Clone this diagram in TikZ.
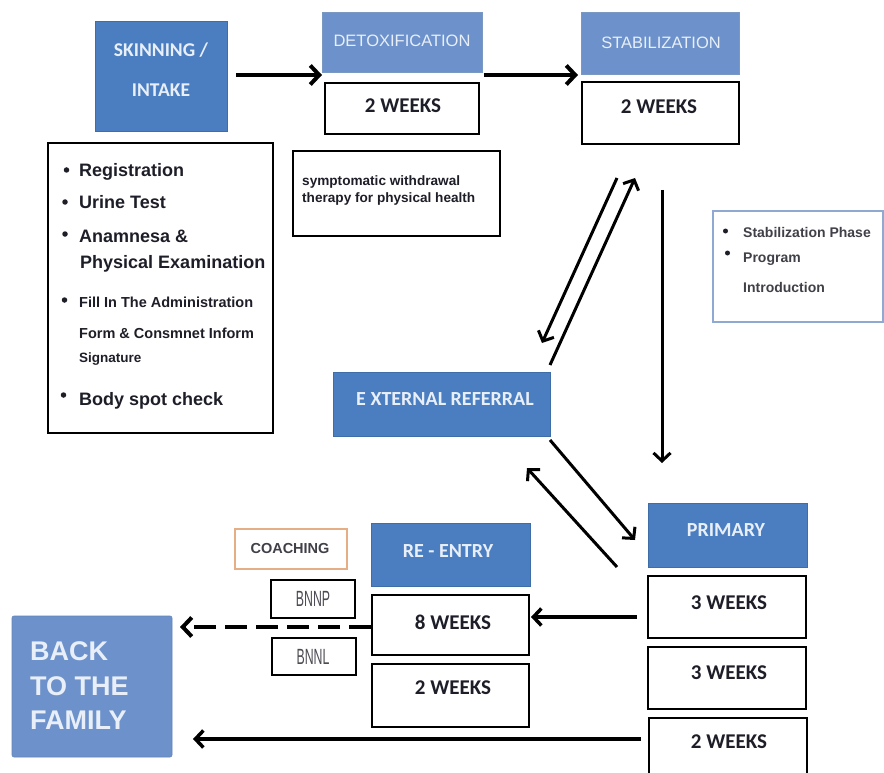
\documentclass[tikz,border=0pt]{standalone}
\usepackage{fontspec}
\setmainfont{Liberation Sans}
\newfontfamily\carl{Carlito}
\usetikzlibrary{arrows.meta}
\definecolor{blueA}{HTML}{4A7EC1}
\definecolor{blueB}{HTML}{6D92CB}
\definecolor{hdrline}{HTML}{3F6DA8}
\definecolor{hdrtxt}{HTML}{E8EFF8}
\definecolor{txt}{HTML}{1E1E28}
\definecolor{orangeB}{HTML}{E6AE85}
\definecolor{infoB}{HTML}{8FA9D2}
\begin{document}
\begin{tikzpicture}[x=1pt,y=-1pt,
  hdrA/.style={fill=blueA, draw=hdrline, line width=0.6pt, inner sep=0pt},
  hdrB/.style={fill=blueB, draw=hdrline!70, line width=0.6pt, inner sep=0pt},
  wbox/.style={draw=black, line width=2.2pt, fill=white, inner sep=0pt},
  ht/.style={text=hdrtxt, font=\carl\bfseries\fontsize{20}{24}\selectfont, inner sep=0pt},
  htr/.style={text=hdrtxt, font=\fontsize{16.5}{20}\selectfont, inner sep=0pt},
  wk/.style={text=txt, font=\carl\bfseries\fontsize{21}{24}\selectfont, inner sep=0pt},
  lt/.style={text=txt, anchor=base west, inner sep=0pt, font=\bfseries\fontsize{18}{20}\selectfont},
  ls/.style={text=txt, anchor=base west, inner sep=0pt, font=\bfseries\fontsize{14.5}{17}\selectfont},
  bul/.style={circle, fill=txt, inner sep=0pt, minimum size=5.5pt},
  arr/.style={line width=3pt, -{Straight Barb[length=8pt,width=17pt]}},
  arrT/.style={line width=4pt, -{Straight Barb[length=9pt,width=19pt]}}
]
\useasboundingbox (0,0) rectangle (884,773);

% ---- top row ----
\node[hdrA, minimum width=132pt, minimum height=110pt] (intake) at (161,76) {};
\node[ht, align=center, font=\carl\bfseries\fontsize{19.5}{40}\selectfont] (intakeT) at (161,70) {SKINNING /\\INTAKE};

\node[hdrB, minimum width=160pt, minimum height=60pt] (detoxH) at (402,42) {};
\node[htr] (detoxT) at (402,41) {DETOXIFICATION};
\node[wbox, minimum width=154pt, minimum height=51pt] (detoxW) at (402,108.5) {};
\node[wk] (detoxWT) at (403,106) {2 WEEKS};

\node[wbox, line width=1.8pt, minimum width=207pt, minimum height=85pt] (sympt) at (396.5,193.5) {};
\node[text=txt, anchor=base west, inner sep=0pt, font=\bfseries\fontsize{13.6}{17}\selectfont] (symptT1) at (302,185.5) {symptomatic withdrawal};
\node[text=txt, anchor=base west, inner sep=0pt, font=\bfseries\fontsize{13.6}{17}\selectfont] (symptT2) at (302,203) {therapy for physical health};

\node[hdrB, minimum width=158pt, minimum height=62pt] (stabH) at (660,43) {};
\node[htr] (stabT) at (661,43) {STABILIZATION};
\node[wbox, minimum width=157pt, minimum height=62pt] (stabW) at (660.5,113) {};
\node[wk] (stabWT) at (659,107) {2 WEEKS};

% ---- intake list ----
\node[wbox, line width=2.5pt, minimum width=225pt, minimum height=290pt] (list) at (160.5,288) {};
\node[bul] (b1) at (66.5,170) {};
\node[lt] (l1) at (79,177) {Registration};
\node[bul] (b2) at (65,202) {};
\node[lt] (l2) at (79,208) {Urine Test};
\node[bul] (b3) at (65,234) {};
\node[lt] (l3) at (79,242) {Anamnesa \&};
\node[lt] (l4) at (80,268) {Physical Examination};
\node[bul] (b4) at (64.5,300) {};
\node[ls] (l5) at (79,307) {Fill In The Administration};
\node[ls] (l6) at (79,338) {Form \& Consmnet Inform};
\node[ls, font=\bfseries\fontsize{13.5}{16}\selectfont] (l7) at (79,362) {Signature};
\node[bul] (b5) at (63.5,395) {};
\node[lt] (l8) at (79,405) {Body spot check};

% ---- stabilization info ----
\node[draw=infoB, line width=1.3pt, fill=white, inner sep=0pt, minimum width=170pt, minimum height=111pt] (info) at (798,266.5) {};
\node[bul, minimum size=5pt] (ib1) at (725.5,231) {};
\node[ls, font=\bfseries\fontsize{14}{17}\selectfont, text=txt!85] (i1) at (743,237) {Stabilization Phase};
\node[bul, minimum size=5pt] (ib2) at (727.5,253) {};
\node[ls, font=\bfseries\fontsize{14}{17}\selectfont, text=txt!85] (i2) at (743,262) {Program};
\node[ls, font=\bfseries\fontsize{14}{17}\selectfont, text=txt!85] (i3) at (743,292.5) {Introduction};

% ---- external referral ----
\node[hdrA, minimum width=217pt, minimum height=64pt] (ext) at (441.5,404) {};
\node[ht] (extT) at (445,399) {E XTERNAL REFERRAL};

% ---- primary ----
\node[hdrA, minimum width=159pt, minimum height=64pt] (prim) at (727.5,535) {};
\node[ht] (primT) at (726,530) {PRIMARY};
\node[wbox, minimum width=158pt, minimum height=62pt] (pw1) at (727,607) {};
\node[wk] (pw1T) at (729,603) {3 WEEKS};
\node[wbox, minimum width=158pt, minimum height=62pt] (pw2) at (727,678) {};
\node[wk] (pw2T) at (729,673) {3 WEEKS};
\node[wbox, minimum width=158pt, minimum height=62pt] (pw3) at (728,749) {};
\node[wk] (pw3T) at (729,742) {2 WEEKS};

% ---- re-entry ----
\node[hdrA, minimum width=159pt, minimum height=63pt] (reH) at (450.5,554.5) {};
\node[ht] (reT) at (448,551) {RE - ENTRY};
\node[wbox, minimum width=157pt, minimum height=60pt] (rw1) at (450.5,625) {};
\node[wk] (rw1T) at (453,622) {8 WEEKS};
\node[wbox, minimum width=157pt, minimum height=63pt] (rw2) at (450.5,695.5) {};
\node[wk] (rw2T) at (453,688) {2 WEEKS};

% ---- coaching ----
\node[draw=orangeB, line width=1.4pt, fill=white, inner sep=0pt, minimum width=112pt, minimum height=40pt] (coach) at (291,549) {};
\node[text=txt!85, inner sep=0pt, font=\bfseries\fontsize{14.5}{17}\selectfont] (coachT) at (290,549) {COACHING};
\node[wbox, line width=2pt, minimum width=84pt, minimum height=38pt] (bnnp) at (313,599) {};
\node[text=txt!80, inner sep=0pt] (bnnpT) at (313,599) {\scalebox{0.56}[1]{\fontsize{22}{24}\selectfont BNNP}};
\node[wbox, line width=2pt, minimum width=84pt, minimum height=37pt] (bnnl) at (314,656.5) {};
\node[text=txt!80, inner sep=0pt] (bnnlT) at (313,656.5) {\scalebox{0.56}[1]{\fontsize{22}{24}\selectfont BNNL}};

% ---- back to the family ----
\node[fill=blueB, draw=blueB!90!black, line width=0.6pt, rounded corners=2pt, inner sep=0pt, minimum width=160pt, minimum height=141pt] (back) at (92,686.5) {};
\node[text=hdrtxt, anchor=base west, inner sep=0pt, font=\bfseries\fontsize{27}{34}\selectfont] (backT1) at (30,660) {BACK};
\node[text=hdrtxt, anchor=base west, inner sep=0pt, font=\bfseries\fontsize{27}{34}\selectfont] (backT2) at (30,695) {TO THE};
\node[text=hdrtxt, anchor=base west, inner sep=0pt, font=\bfseries\fontsize{27}{34}\selectfont] (backT3) at (30,729) {FAMILY};

% ---- connector end points ----
\coordinate (a1s) at (236,75);   \coordinate (a1e) at (322,75);
\coordinate (a2s) at (484,75);   \coordinate (a2e) at (578,75);
\coordinate (a3s) at (617,178);  \coordinate (a3e) at (542,343);
\coordinate (a4s) at (550,365);  \coordinate (a4e) at (635,178);
\coordinate (a5s) at (662,190);  \coordinate (a5e) at (662,463);
\coordinate (a6s) at (550,440);  \coordinate (a6e) at (635,540);
\coordinate (a7s) at (617,567);  \coordinate (a7e) at (527,468);
\coordinate (a8s) at (637,617);  \coordinate (a8e) at (531,617);
\coordinate (a9s) at (371,627);  \coordinate (a9e) at (180,627);
\coordinate (a10s) at (641,739); \coordinate (a10e) at (193,739);

\draw[arrT] (a1s) -- (a1e);
\draw[arrT] (a2s) -- (a2e);
\draw[arr] (a3s) -- (a3e);
\draw[arr] (a4s) -- (a4e);
\draw[arr, line width=3pt] (a5s) -- (a5e);
\draw[arr] (a6s) -- (a6e);
\draw[arr] (a7s) -- (a7e);
\draw[arr, line width=3.5pt] (a8s) -- (a8e);
\draw[line width=4pt, dash pattern=on 22pt off 9pt, -{Straight Barb[length=9pt,width=19pt]}] (a9s) -- (a9e);
\draw[arr, line width=3.5pt] (a10s) -- (a10e);
\end{tikzpicture}
\end{document}
